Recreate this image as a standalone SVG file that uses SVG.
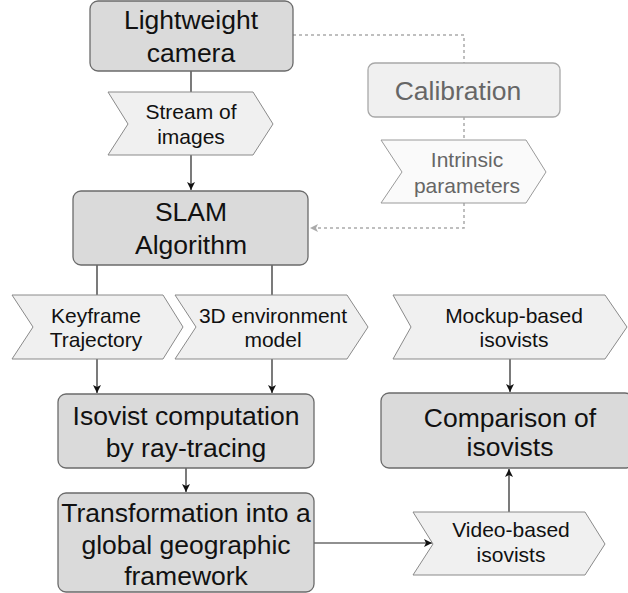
<svg xmlns="http://www.w3.org/2000/svg" width="628" height="593" viewBox="0 0 628 593">
<defs>
<style>
.box{fill:#dadada;stroke:#6b6b6b;stroke-width:1.3}
.chev{fill:#f0f0f0;stroke:#8a8a8a;stroke-width:1}
.lbox{fill:#f0f0f0;stroke:#a8a8a8;stroke-width:1.3}
.lchev{fill:#fafafa;stroke:#9a9a9a;stroke-width:1}
.t{font-family:"Liberation Sans",Arial,sans-serif;font-size:26.5px;fill:#111;text-anchor:middle}
.s{font-family:"Liberation Sans",Arial,sans-serif;font-size:21px;fill:#111;text-anchor:middle}
.g{fill:#666}
.c{fill:none;stroke:#222;stroke-width:1.2}
.d{fill:none;stroke:#aaa;stroke-width:1.5;stroke-dasharray:3 3}
</style>
<marker id="ah" markerWidth="10" markerHeight="10" refX="9" refY="5" orient="auto" markerUnits="userSpaceOnUse">
<path d="M1,1 L9,5 L1,9 L3,5 Z" fill="#111"/>
</marker>
<marker id="ahg" markerWidth="10" markerHeight="10" refX="9" refY="5" orient="auto" markerUnits="userSpaceOnUse">
<path d="M1,1 L9,5 L1,9 L3,5 Z" fill="#aaa"/>
</marker>
</defs>
<rect width="628" height="593" fill="#fff"/>
<g id="connectors">
<path class="c" d="M191,71 V92"/>
<path class="c" d="M191,155 V190" marker-end="url(#ah)"/>
<path class="d" d="M293,35 H464 V63"/>
<path class="d" d="M464,117 V140"/>
<path class="d" d="M464,203 V228 H310" marker-end="url(#ahg)"/>
<path class="c" d="M97,265 V295"/>
<path class="c" d="M272,265 V295"/>
<path class="c" d="M97,359 V393" marker-end="url(#ah)"/>
<path class="c" d="M272,359 V393" marker-end="url(#ah)"/>
<path class="c" d="M186,468 V492" marker-end="url(#ah)"/>
<path class="c" d="M314,543 H432" marker-end="url(#ah)"/>
<path class="c" d="M510,359 V392" marker-end="url(#ah)"/>
<path class="c" d="M509,512 V469" marker-end="url(#ah)"/>
</g>
<g id="camera">
<rect class="box" x="90" y="1" width="203" height="70" rx="8"/>
<text class="t" x="191" y="29">Lightweight</text>
<text class="t" x="191" y="62">camera</text>
</g>
<g id="stream">
<polygon class="chev" points="108,92 253,92 273,124 253,155 108,155 128,124"/>
<text class="s" x="191" y="119">Stream of</text>
<text class="s" x="191" y="144">images</text>
</g>
<g id="calibration">
<rect class="lbox" x="368" y="63" width="192" height="54" rx="7"/>
<text class="t g" x="458" y="100">Calibration</text>
</g>
<g id="intrinsic">
<polygon class="lchev" points="381,140 526,140 546,172 526,203 381,203 402,172"/>
<text class="s g" x="467" y="167">Intrinsic</text>
<text class="s g" x="467" y="193">parameters</text>
</g>
<g id="slam">
<rect class="box" x="73" y="191" width="235" height="74" rx="8"/>
<text class="t" x="191" y="221">SLAM</text>
<text class="t" x="191" y="254">Algorithm</text>
</g>
<g id="keyframe">
<polygon class="chev" points="12,295 163,295 183,327 163,359 12,359 33,327"/>
<text class="s" x="96" y="323">Keyframe</text>
<text class="s" x="96" y="347">Trajectory</text>
</g>
<g id="env">
<polygon class="chev" points="175,295 347,295 368,327 347,359 175,359 196,327"/>
<text class="s" x="273" y="323">3D environment</text>
<text class="s" x="273" y="347">model</text>
</g>
<g id="mockup">
<polygon class="chev" points="393,295 605,295 627,327 605,359 393,359 411,327"/>
<text class="s" x="514" y="323">Mockup-based</text>
<text class="s" x="514" y="347">isovists</text>
</g>
<g id="isovist">
<rect class="box" x="58" y="394" width="256" height="74" rx="8"/>
<text class="t" x="186" y="425">Isovist computation</text>
<text class="t" x="186" y="457">by ray-tracing</text>
</g>
<g id="comparison">
<rect class="box" x="381" y="393" width="252" height="75" rx="8"/>
<text class="t" x="510" y="427">Comparison of</text>
<text class="t" x="510" y="456">isovists</text>
</g>
<g id="transformation">
<rect class="box" x="58" y="493" width="256" height="99" rx="8"/>
<text class="t" x="186" y="522">Transformation into a</text>
<text class="t" x="186" y="554">global geographic</text>
<text class="t" x="186" y="585">framework</text>
</g>
<g id="video">
<polygon class="chev" points="413,512 585,512 605,544 585,575 413,575 433,544"/>
<text class="s" x="511" y="537">Video-based</text>
<text class="s" x="511" y="562">isovists</text>
</g>
</svg>
